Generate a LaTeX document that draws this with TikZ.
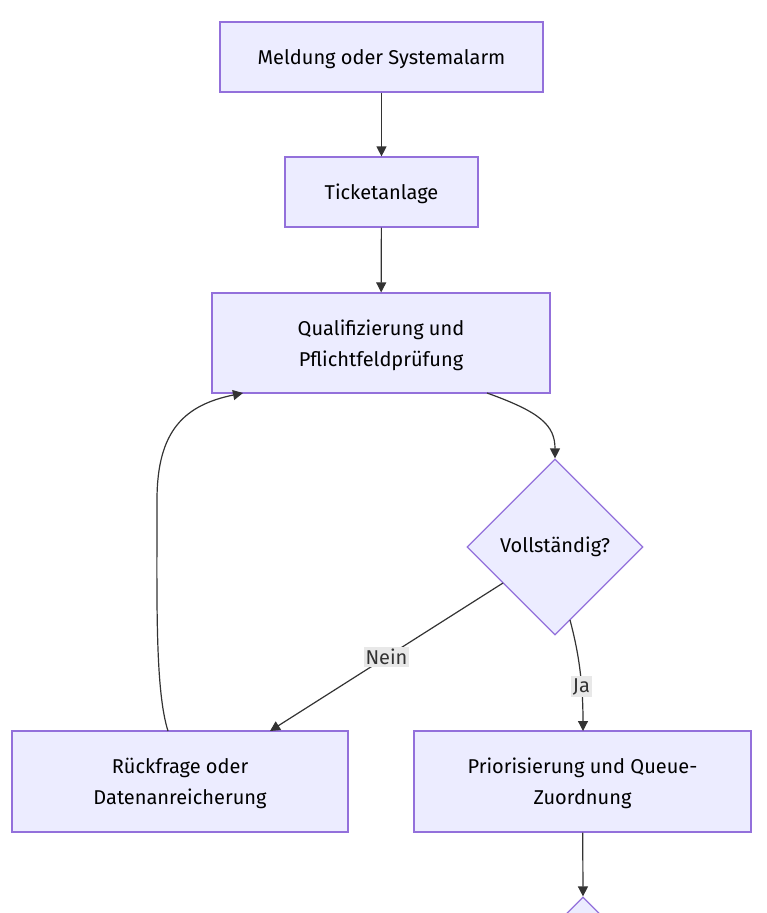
\documentclass[tikz,border=0pt]{standalone}
\usepackage{fontspec}
\setmainfont{Fira Sans}
\usetikzlibrary{arrows.meta,shapes.geometric}
\definecolor{nodefill}{HTML}{ECECFF}
\definecolor{nodeline}{HTML}{9370DB}
\definecolor{edgecol}{HTML}{333333}
\definecolor{lblbg}{HTML}{E8E8E8}
\begin{document}
\begin{tikzpicture}[x=1pt,y=-1pt,
  box/.style={draw=nodeline,fill=nodefill,line width=1.2pt,minimum width=#1,align=center,font=\fontsize{20}{31}\selectfont,inner sep=0pt,text depth=-2pt},
  dia/.style={draw=nodeline,fill=nodefill,line width=1.2pt,diamond,minimum width=176pt,minimum height=176pt,inner sep=0pt,font=\fontsize{20}{24}\selectfont},
  conn/.style={draw=edgecol,line width=1.2pt,-{Triangle[length=10pt,width=10pt]}},
  lbl/.style={fill=lblbg,inner sep=2pt,font=\fontsize{20}{22}\selectfont,text=edgecol}]
\useasboundingbox (0,0) rectangle (766,913);
\node[box=323pt,minimum height=70pt] (a) at (381.5,57) {Meldung oder Systemalarm};
\node[box=193pt,minimum height=70pt] (b) at (381.5,192) {Ticketanlage};
\node[box=338pt,minimum height=100pt] (c) at (381,343) {Qualifizierung und\\Pflichtfeldprüfung};
\node[dia] (d) at (555,547) {Vollständig?};
\node[box=336pt,minimum height=101pt] (e) at (180,781.5) {Rückfrage oder\\Datenanreicherung};
\node[box=337pt,minimum height=101pt] (f) at (582.5,781.5) {Priorisierung und Queue-\\Zuordnung};
\node[dia] (g) at (583,985) {};
\coordinate (cbr) at (487,393);
\coordinate (cbl) at (243,393);
\coordinate (etop) at (168,731);
\coordinate (dl) at (503,583);
\coordinate (dr) at (570,620);
\coordinate (fj) at (583,731);
\coordinate (ne) at (270,731);
\draw[conn] (a) -- (b);
\draw[conn] (b) -- (c);
\draw[conn] (cbr) .. controls (540,412) and (555,425) .. (d.north);
\draw[conn] (dl) -- (ne) node[lbl,pos=0.5] {Nein};
\draw[conn] (dr) .. controls (578,650) and (583,680) .. (fj) node[lbl,pos=0.67] {Ja};
\draw[conn] (etop) .. controls (155,690) and (157,600) .. (157,500) .. controls (157,430) and (185,405) .. (cbl);
\draw[conn] (f) -- (g.north);
\end{tikzpicture}
\end{document}
